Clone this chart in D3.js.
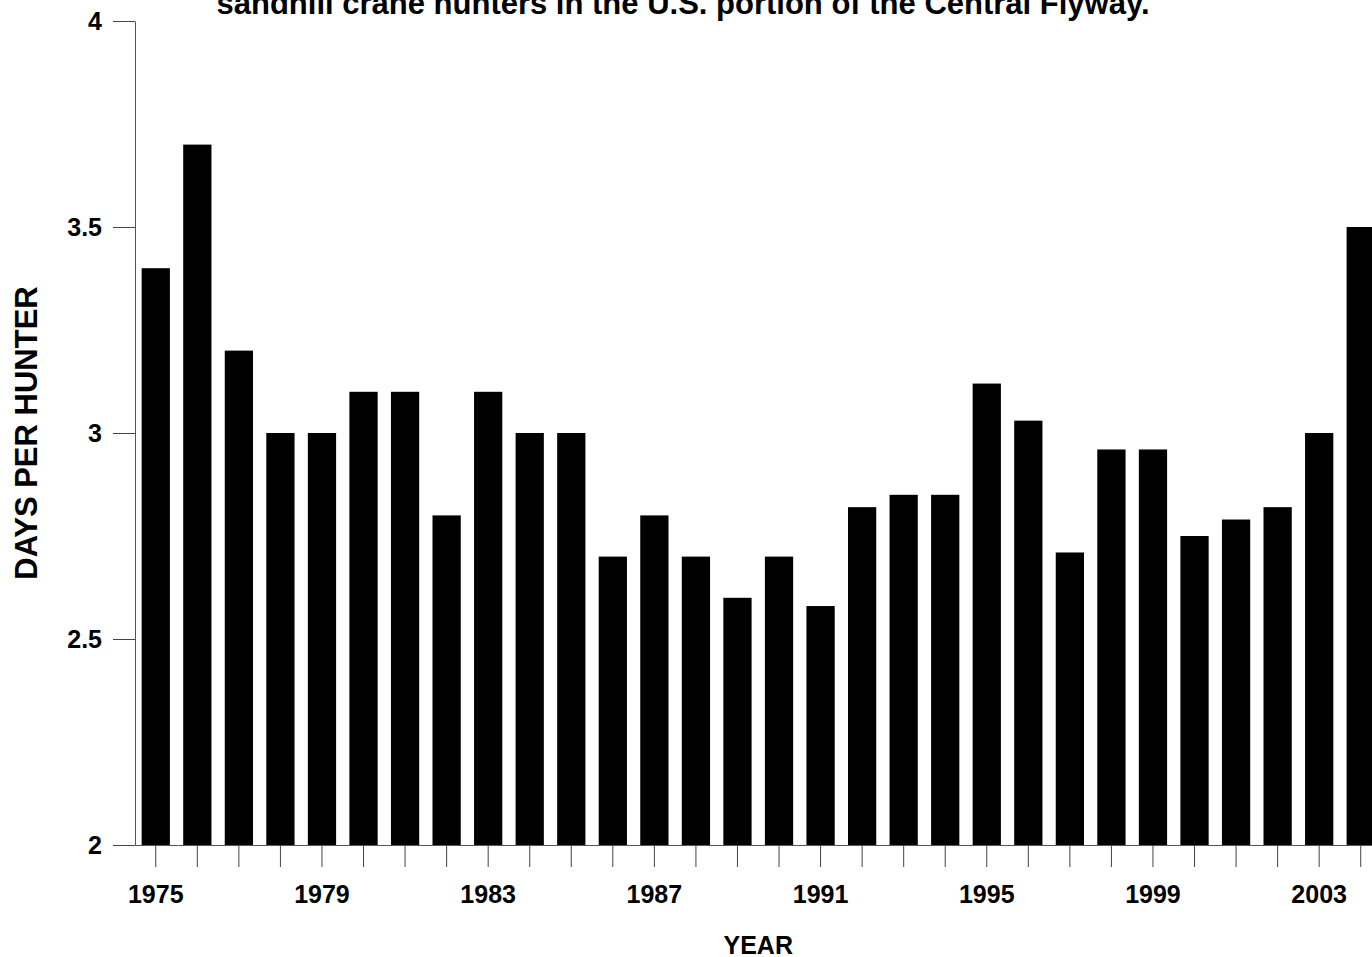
<!DOCTYPE html>
<html>
<head>
<meta charset="utf-8">
<script src="https://cdn.jsdelivr.net/npm/d3@7"></script>
<style>
  body { margin: 0; background: #fff; overflow: hidden; }
  svg { display: block; font-family: "Liberation Sans", Arial, sans-serif; font-weight: bold; }
</style>
</head>
<body>
<svg></svg>
<script>
var years = [1975, 1976, 1977, 1978, 1979, 1980, 1981, 1982, 1983, 1984,
             1985, 1986, 1987, 1988, 1989, 1990, 1991, 1992, 1993, 1994,
             1995, 1996, 1997, 1998, 1999, 2000, 2001, 2002, 2003, 2004]
var days = [3.4, 3.7, 3.2, 3.0, 3.0, 3.1, 3.1, 2.8, 3.1, 3.0,
            3.0, 2.7, 2.8, 2.7, 2.6, 2.7, 2.58, 2.82, 2.85, 2.85,
            3.12, 3.03, 2.71, 2.96, 2.96, 2.75, 2.79, 2.82, 3.0, 3.5]
var yTicks = [2, 2.5, 3, 3.5, 4]
var xLabelYears = [1975, 1979, 1983, 1987, 1991, 1995, 1999, 2003]

var title = "sandhill crane hunters in the U.S. portion of the Central Flyway."

var win_width = 1372;
var win_height = 957;

var margin_left = 135;
var plot_right = 1381.5;   // plot runs a bit past the window edge
var y_top = 21;
var y_bottom = 845;

var svg = d3.select("svg")
    .attr("width", win_width)
    .attr("height", win_height);

var xScale = d3.scaleBand()
    .domain(years)
    .range([margin_left, plot_right])
    .paddingInner(0.32)
    .paddingOuter(0.16);

var yScale = d3.scaleLinear()
    .domain([2, 4])
    .range([y_bottom, y_top]);

// bars
svg.append("g")
    .selectAll("rect")
    .data(years)
    .enter()
    .append("rect")
    .attr("x", d => xScale(d))
    .attr("y", (d, i) => yScale(days[i]))
    .attr("width", xScale.bandwidth())
    .attr("height", (d, i) => y_bottom - yScale(days[i]))
    .attr("fill", "#000");

// y axis
var yAxis = d3.axisLeft(yScale)
    .tickValues(yTicks)
    .tickFormat(d3.format("~g"))
    .tickSize(22)
    .tickPadding(11)
    .tickSizeOuter(0);

var gy = svg.append("g")
    .attr("transform", "translate(" + margin_left + ",0)")
    .call(yAxis);

gy.select(".domain").attr("stroke", "#555");
gy.selectAll(".tick line").attr("stroke", "#444");
gy.selectAll(".tick text")
    .attr("fill", "#000")
    .style("font-size", "25px")
    .style("font-weight", "bold")
    .style("font-family", "Liberation Sans, Arial, sans-serif");

// x axis: tick each year, label every 4th
var xAxis = d3.axisBottom(xScale)
    .tickSize(22)
    .tickSizeOuter(0)
    .tickPadding(18)
    .tickFormat(d => xLabelYears.indexOf(d) >= 0 ? d : "");

var gx = svg.append("g")
    .attr("transform", "translate(0," + y_bottom + ")")
    .call(xAxis);

gx.select(".domain").attr("stroke", "#555");
gx.selectAll(".tick line").attr("stroke", "#444");
gx.selectAll(".tick text")
    .attr("fill", "#000")
    .style("font-size", "25px")
    .style("font-weight", "bold")
    .style("font-family", "Liberation Sans, Arial, sans-serif");

// axis titles
svg.append("text")
    .attr("x", (margin_left + plot_right) / 2)
    .attr("y", 954)
    .attr("text-anchor", "middle")
    .style("font-size", "25px")
    .text("YEAR");

svg.append("text")
    .attr("transform", "translate(37," + ((y_top + y_bottom) / 2) + ") rotate(-90)")
    .attr("text-anchor", "middle")
    .style("font-size", "31px")
    .text("DAYS PER HUNTER");

// title (first line sits above the visible area)
svg.append("text")
    .attr("x", 683)
    .attr("y", 14)
    .attr("text-anchor", "middle")
    .style("font-size", "31px")
    .text(title);
</script>
</body>
</html>
